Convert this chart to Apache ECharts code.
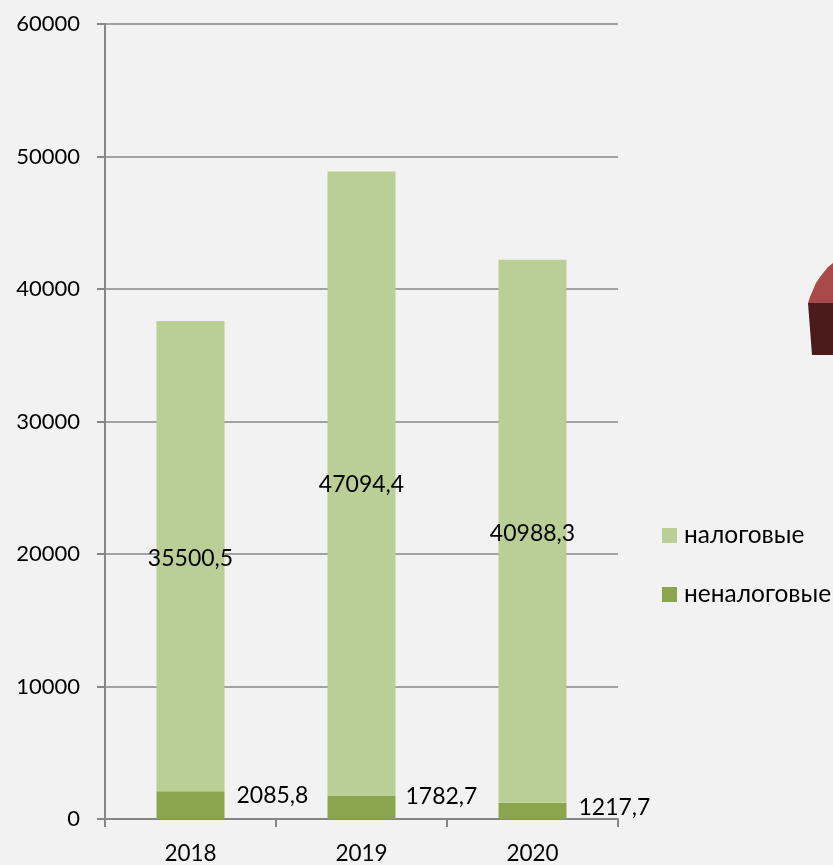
<!DOCTYPE html>
<html><head><meta charset="utf-8">
<style>html,body{margin:0;padding:0;background:#f2f2f2}#c{width:833px;height:865px}</style>
<script src="https://cdn.jsdelivr.net/npm/echarts@6/dist/echarts.min.js"></script>
</head><body><div id="c"></div>
<script>
const categories = ['2018','2019','2020'];
const taxName = 'налоговые';
const nonTaxName = 'неналоговые';
const taxValues = [35500.5, 47094.4, 40988.3];
const nonTaxValues = [2085.8, 1782.7, 1217.7];
const nonTaxLabelOffsets = [[7,-10],[5,-11],[7,-3]];
const taxLabelOffsets = [[0,2],[0,1],[0,2]];
const FONT = 'Lato';
const fmt = p => String(p.value).replace('.', ',');
const chart = echarts.init(document.getElementById('c'), null, {renderer:'canvas'});
chart.setOption({
  animation:false,
  backgroundColor:'#f2f2f2',
  textStyle:{fontFamily:FONT,color:'#000'},
  grid:{left:105,right:215,top:24,bottom:46,containLabel:false},
  legend:{
    orient:'vertical',left:657,top:518,itemWidth:15,itemHeight:15,itemGap:34,
    icon:'rect',data:[taxName,nonTaxName],
    textStyle:{fontFamily:FONT,fontSize:24.5,color:'#000',padding:[0,0,0,2]}
  },
  xAxis:{
    type:'category',data:categories,
    axisLine:{lineStyle:{color:'#868686',width:2}},
    axisTick:{show:true,length:8,alignWithLabel:false,lineStyle:{color:'#868686',width:2}},
    axisLabel:{fontFamily:FONT,fontSize:22.5,color:'#000',margin:23}
  },
  yAxis:{
    type:'value',min:0,max:60000,interval:10000,
    axisLine:{show:true,lineStyle:{color:'#868686',width:2}},
    axisTick:{show:true,length:8,lineStyle:{color:'#868686',width:2}},
    splitLine:{show:true,lineStyle:{color:'#868686',width:1.5}},
    axisLabel:{fontFamily:FONT,fontSize:22,color:'#000',margin:25,formatter:v=>String(v)}
  },
  series:[
    {name:nonTaxName,type:'bar',stack:'t',barWidth:68,itemStyle:{color:'#8aa54e'},
     data:nonTaxValues.map((v,i)=>({value:v,label:{offset:nonTaxLabelOffsets[i]}})),
     label:{show:true,position:'right',formatter:fmt,fontFamily:FONT,fontSize:23,color:'#000'}},
    {name:taxName,type:'bar',stack:'t',barWidth:68,itemStyle:{color:'#b9cf96'},
     data:taxValues.map((v,i)=>({value:v,label:{offset:taxLabelOffsets[i]}})),
     label:{show:true,position:'inside',formatter:fmt,fontFamily:FONT,fontSize:23,color:'#000'}}
  ],
  graphic:[
    {type:'polygon',silent:true,shape:{points:[[808,303],[812,355],[833,355],[833,303]]},style:{fill:'#4a1b1a'}},
    {type:'polygon',silent:true,shape:{points:[[808,303],[810,297],[813,290],[816,283],[820,277],[824,272],[828,267],[833,263],[833,303]]},style:{fill:'#a84a4a'}}
  ]
});
</script></body></html>
